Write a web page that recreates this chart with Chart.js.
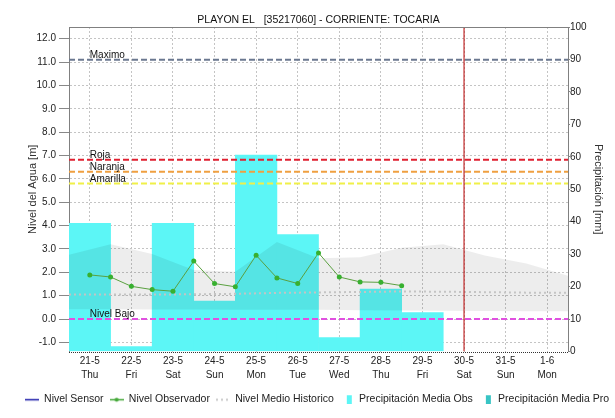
<!DOCTYPE html>
<html>
<head>
<meta charset="utf-8">
<script src="https://cdn.jsdelivr.net/npm/chart.js@4.4.1/dist/chart.umd.min.js"></script>
<style>
body { margin: 0; background: #fff; }
</style>
</head>
<body>
<canvas id="chart" width="615" height="418"></canvas>
<script>
// Data
var days = ['21-5', '22-5', '23-5', '24-5', '25-5', '26-5', '27-5', '28-5', '29-5', '30-5', '31-5', '1-6'];
var weekdays = ['Thu', 'Fri', 'Sat', 'Sun', 'Mon', 'Tue', 'Wed', 'Thu', 'Fri', 'Sat', 'Sun', 'Mon'];
var levelTicks = [-1, 0, 1, 2, 3, 4, 5, 6, 7, 8, 9, 10, 11, 12];

var precipDays = [0, 1, 2, 3, 4, 5, 6, 7, 8];
var precipObs = [39.5, 1.5, 39.5, 15.5, 60.5, 36, 4.3, 19.2, 12];

var obsTimes = [0, 0.5, 1, 1.5, 2, 2.5, 3, 3.5, 4, 4.5, 5, 5.5, 6, 6.5, 7, 7.5];
var obsLevels = [1.89, 1.80, 1.40, 1.26, 1.19, 2.48, 1.52, 1.38, 2.73, 1.76, 1.52, 2.83, 1.80, 1.59, 1.57, 1.43];

var histTimes = [-0.5, 0.5, 1.5, 2.5, 3.5, 4.5, 5.5, 6.5, 7.5, 8.5, 9.5, 10.5, 11.5];
var histMedio = [1.05, 1.05, 1.05, 1.06, 1.08, 1.12, 1.14, 1.16, 1.18, 1.17, 1.15, 1.13, 1.12];
var histMax = [2.75, 3.2, 2.78, 2.1, 2.02, 3.3, 2.6, 2.65, 3.05, 3.2, 2.72, 2.38, 1.85];
var histMin = [0.42, 0.42, 0.41, 0.41, 0.4, 0.4, 0.4, 0.38, 0.37, 0.35, 0.34, 0.33, 0.33];

var thresholdNames = ['Maximo', 'Roja', 'Naranja', 'Amarilla', 'Nivel Bajo'];
var thresholdValues = [11.1, 6.82, 6.3, 5.8, 0.0];
var nowDay = 9;

var legendNames = ['Nivel Sensor', 'Nivel Observador', 'Nivel Medio Historico', 'Precipitación Media Obs', 'Precipitación Media Pro'];

// Styles
var thresholdColours = ['#6b7890', '#e02030', '#f0a040', '#f0f048', '#e050e0'];
var fontFamily = "'Liberation Sans', Arial, sans-serif";
Chart.defaults.font.family = fontFamily;

function pts(xs, ys) {
    return xs.map(function (x, i) { return {x: x, y: ys[i]}; });
}

function legendMarker(kind, colour) {
    var c = document.createElement('canvas');
    c.width = 14; c.height = 10;
    var g = c.getContext('2d');
    g.strokeStyle = colour;
    g.fillStyle = colour;
    if (kind === 'box') {
        g.fillRect(7, 1, 5, 9);
        return c;
    }
    g.lineWidth = kind === 'dots' ? 2 : 1.5;
    if (kind === 'dots') g.setLineDash([2, 3]);
    g.beginPath();
    g.moveTo(0, 5.5);
    g.lineTo(14, 5.5);
    g.stroke();
    if (kind === 'linePoint') {
        g.beginPath();
        g.arc(7, 5.5, 2, 0, Math.PI * 2);
        g.fill();
    }
    return c;
}

var legendMarkers = [
    legendMarker('line', '#1818a8'),
    legendMarker('linePoint', '#44a838'),
    legendMarker('dots', '#c8c8c8'),
    legendMarker('box', '#5cf6f6'),
    legendMarker('box', '#38c4c4')
];

var datasets = [];

datasets.push({
    type: 'line', label: 'Nivel Sensor', data: [], yAxisID: 'y',
    borderColor: '#1818a8', borderWidth: 1.5, pointRadius: 0, order: 1
});
datasets.push({
    type: 'line', label: 'Nivel Observador', data: pts(obsTimes, obsLevels), yAxisID: 'y',
    borderColor: '#5aa040', borderWidth: 1, pointRadius: 2.5, pointBackgroundColor: '#38b030',
    pointBorderColor: '#38b030', pointBorderWidth: 0, order: 1
});
datasets.push({
    type: 'line', label: 'Nivel Medio Historico', data: pts(histTimes, histMedio), yAxisID: 'y',
    borderColor: '#c4c4c4', borderWidth: 2, borderDash: [2, 3], pointRadius: 0, order: 6
});
datasets.push({
    type: 'bar', label: 'Precipitación Media Obs', data: pts(precipDays, precipObs), yAxisID: 'yR',
    backgroundColor: '#5cf6f6', borderWidth: 0, barPercentage: 1, categoryPercentage: 1,
    grouped: false, order: 10
});
datasets.push({
    type: 'bar', label: 'Precipitación Media Pro', data: [], yAxisID: 'yR',
    backgroundColor: '#38c4c4', borderWidth: 0, barPercentage: 1, categoryPercentage: 1,
    grouped: false, order: 10
});
datasets.push({
    type: 'line', label: 'hist min', data: pts(histTimes, histMin), yAxisID: 'y',
    borderWidth: 0, pointRadius: 0, fill: false, order: 8
});
datasets.push({
    type: 'line', label: 'hist max', data: pts(histTimes, histMax), yAxisID: 'y',
    borderWidth: 0, pointRadius: 0, fill: '-1', backgroundColor: 'rgba(0, 0, 0, 0.07)', order: 8
});
thresholdNames.forEach(function (name, i) {
    datasets.push({
        type: 'line', label: name, yAxisID: 'y',
        data: [{x: -0.5, y: thresholdValues[i]}, {x: 11.5, y: thresholdValues[i]}],
        borderColor: thresholdColours[i], borderWidth: 2, borderDash: [6, 3], pointRadius: 0, order: 4
    });
});
datasets.push({
    type: 'line', label: 'now', yAxisID: 'y',
    data: [{x: nowDay, y: -1.3889}, {x: nowDay, y: 12.5}],
    borderColor: '#b80000', borderWidth: 1, pointRadius: 0, order: 3
});

var frame = {
    id: 'frame',
    afterDatasetsDraw: function (chart) {
        var ctx = chart.ctx, y = chart.scales.y, x = chart.scales.x;
        ctx.save();
        ctx.font = '10px ' + fontFamily;
        ctx.fillStyle = '#111';
        ctx.textBaseline = 'alphabetic';
        thresholdNames.forEach(function (name, i) {
            ctx.fillText(name, x.getPixelForValue(0), y.getPixelForValue(thresholdValues[i]) - 2);
        });
        ctx.restore();
    },
    afterDraw: function (chart) {
        var ctx = chart.ctx, a = chart.chartArea;
        ctx.save();
        ctx.lineWidth = 1;
        ctx.strokeStyle = '#808080';
        ctx.beginPath();
        ctx.moveTo(a.left, Math.round(a.top) + 0.5);
        ctx.lineTo(a.right, Math.round(a.top) + 0.5);
        ctx.stroke();
        ctx.strokeStyle = '#333';
        ctx.setLineDash([1, 1]);
        ctx.beginPath();
        ctx.moveTo(a.left, Math.round(a.bottom) + 0.5);
        ctx.lineTo(a.right, Math.round(a.bottom) + 0.5);
        ctx.stroke();
        ctx.restore();
    }
};

var chart = new Chart(document.getElementById('chart'), {
    data: { datasets: datasets },
    plugins: [frame],
    options: {
        responsive: false,
        animation: false,
        events: [],
        layout: { padding: { bottom: 3.5 } },
        scales: {
            x: {
                type: 'linear', min: -0.5, max: 11.5, offset: false,
                afterBuildTicks: function (scale) {
                    scale.ticks = days.map(function (d, i) { return {value: i}; });
                },
                afterFit: function (scale) { scale.height = 36.5; },
                ticks: {
                    callback: function (v) { return [days[v], weekdays[v]]; },
                    font: { size: 10, lineHeight: 1.4 }, color: '#222', padding: 3,
                    maxRotation: 0, autoSkip: false
                },
                grid: { color: '#c4c4c4', drawTicks: false, offset: false },
                border: { display: false, dash: [2, 2] }
            },
            y: {
                position: 'left', min: -1.3889, max: 12.5,
                afterBuildTicks: function (scale) {
                    scale.ticks = levelTicks.map(function (v) { return {value: v}; });
                },
                afterFit: function (scale) { scale.width = 69; },
                ticks: {
                    callback: function (v) { return v.toFixed(1); },
                    font: { size: 10 }, color: '#222', padding: 3
                },
                grid: { color: '#c4c4c4', tickLength: 10, tickColor: '#888', tickBorderDash: [] },
                border: { color: '#808080', dash: [2, 2] },
                title: {
                    display: true, text: 'Nivel del Agua [m]', color: '#333',
                    font: { size: 11 }, padding: { top: 26, bottom: 0 }
                }
            },
            yR: {
                position: 'right', min: 0, max: 100,
                afterFit: function (scale) { scale.width = 47; },
                ticks: { stepSize: 10, font: { size: 10 }, color: '#222', padding: 0 },
                grid: { drawOnChartArea: false, tickLength: 2, tickColor: '#888' },
                border: { color: '#808080' },
                title: {
                    display: true, text: 'Precipitación [mm]', color: '#333',
                    font: { size: 11 }, padding: { top: 10, bottom: 0 }
                }
            }
        },
        plugins: {
            title: {
                display: true, text: 'PLAYON EL   [35217060] - CORRIENTE: TOCARIA',
                fullSize: false, color: '#111',
                font: { size: 10.5, weight: 'normal' }, padding: { top: 13.5, bottom: 0.9 }
            },
            legend: {
                position: 'bottom', align: 'end',
                labels: {
                    usePointStyle: true, pointStyleWidth: 14, boxHeight: 10.5, padding: 6,
                    font: { size: 10.5 }, color: '#222',
                    generateLabels: function () {
                        return legendNames.map(function (name, i) {
                            return {
                                text: name, pointStyle: legendMarkers[i], fillStyle: 'rgba(0,0,0,0)',
                                strokeStyle: 'rgba(0,0,0,0)', lineWidth: 0, hidden: false,
                                fontColor: '#222', datasetIndex: i
                            };
                        });
                    }
                }
            },
            tooltip: { enabled: false }
        }
    }
});
</script>
</body>
</html>
